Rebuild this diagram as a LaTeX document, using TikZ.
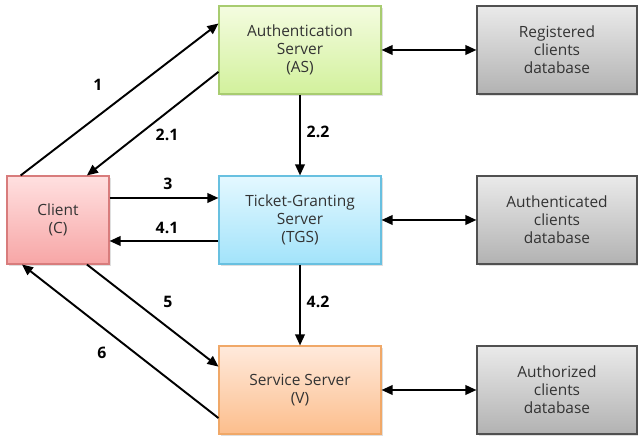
\documentclass[tikz,border=0pt]{standalone}
\usepackage{fontspec}
\setmainfont{Open Sans}
\usepackage{tikz}
\usetikzlibrary{arrows.meta, shadows}

\definecolor{clientTop}{HTML}{FFE0E0}
\definecolor{clientBot}{HTML}{F7A6A6}
\definecolor{clientLine}{HTML}{D87C7C}
\definecolor{asTop}{HTML}{F4FCE0}
\definecolor{asBot}{HTML}{D2F19C}
\definecolor{asLine}{HTML}{A8CC70}
\definecolor{tgsTop}{HTML}{E4F8FF}
\definecolor{tgsBot}{HTML}{A2E3FA}
\definecolor{tgsLine}{HTML}{68C0E0}
\definecolor{ssTop}{HTML}{FFEADC}
\definecolor{ssBot}{HTML}{FCBE8C}
\definecolor{ssLine}{HTML}{F0A868}
\definecolor{dbTop}{HTML}{EAEAEA}
\definecolor{dbBot}{HTML}{B2B2B2}
\definecolor{dbLine}{HTML}{505050}
\definecolor{txt}{HTML}{333333}

\tikzset{
  box/.style={draw, line width=0.6pt, align=center, minimum height=1.76cm,
    text=txt, font=\fontsize{8.8}{10.2}\selectfont,
    drop shadow={opacity=0.25, shadow xshift=1pt, shadow yshift=-1pt}},
  srv/.style={box, minimum width=3.24cm},
  dbbox/.style={box, minimum width=3.2cm, draw=dbLine, top color=dbTop, bottom color=dbBot},
  msg/.style={-{Triangle[length=2.2mm, width=1.9mm]}, line width=1.1pt},
  link/.style={{Triangle[length=2.2mm, width=1.9mm]}-{Triangle[length=2.2mm, width=1.9mm]}, line width=1.1pt},
  num/.style={font=\fontsize{9}{10}\selectfont\bfseries}
}

\begin{document}
\begin{tikzpicture}
\useasboundingbox (0,0) rectangle (12.76,8.78);

% Boxes
\node[box, minimum width=2.04cm, draw=clientLine, top color=clientTop, bottom color=clientBot] (client) at (1.16,4.38) {Client\\(C)};
\node[srv, draw=asLine, top color=asTop, bottom color=asBot] (as) at (6.0,7.78) {Authentication\\Server\\(AS)};
\node[srv, draw=tgsLine, top color=tgsTop, bottom color=tgsBot] (tgs) at (6.0,4.38) {Ticket-Granting\\Server\\(TGS)};
\node[srv, draw=ssLine, top color=ssTop, bottom color=ssBot] (ss) at (6.0,0.98) {Service Server\\(V)};

% Databases
\node[dbbox] (regdb) at (11.14,7.78) {Registered\\clients\\database};
\node[dbbox] (authdb) at (11.14,4.38) {Authenticated\\clients\\database};
\node[dbbox] (authzdb) at (11.14,0.98) {Authorized\\clients\\database};

% Messages
\draw[msg] (client.130) -- (as.162);
\draw[msg] (as.195) -- (client.57);
\draw[msg] (as.south) -- (tgs.north);
\draw[msg] ([yshift=0.44cm]client.east) -- ([yshift=0.44cm]tgs.west);
\draw[msg] ([yshift=-0.42cm]tgs.west) -- ([yshift=-0.42cm]client.east);
\draw[msg] (tgs.south) -- (ss.north);
\draw[msg] (client.-57) -- (ss.164);
\draw[msg] (ss.199) -- (client.231);

\draw[link] (as.east) -- (regdb.west);
\draw[link] (tgs.east) -- (authdb.west);
\draw[link] (ss.east) -- (authzdb.west);

% Step numbers
\node[num] (n1) at (1.96,7.08) {1};
\node[num] (n21) at (3.34,6.08) {2.1};
\node[num] (n22) at (6.36,6.14) {2.2};
\node[num] (n3) at (3.36,5.10) {3};
\node[num] (n41) at (3.34,4.22) {4.1};
\node[num] (n42) at (6.36,2.74) {4.2};
\node[num] (n5) at (3.36,2.74) {5};
\node[num] (n6) at (2.04,1.72) {6};
\end{tikzpicture}
\end{document}
